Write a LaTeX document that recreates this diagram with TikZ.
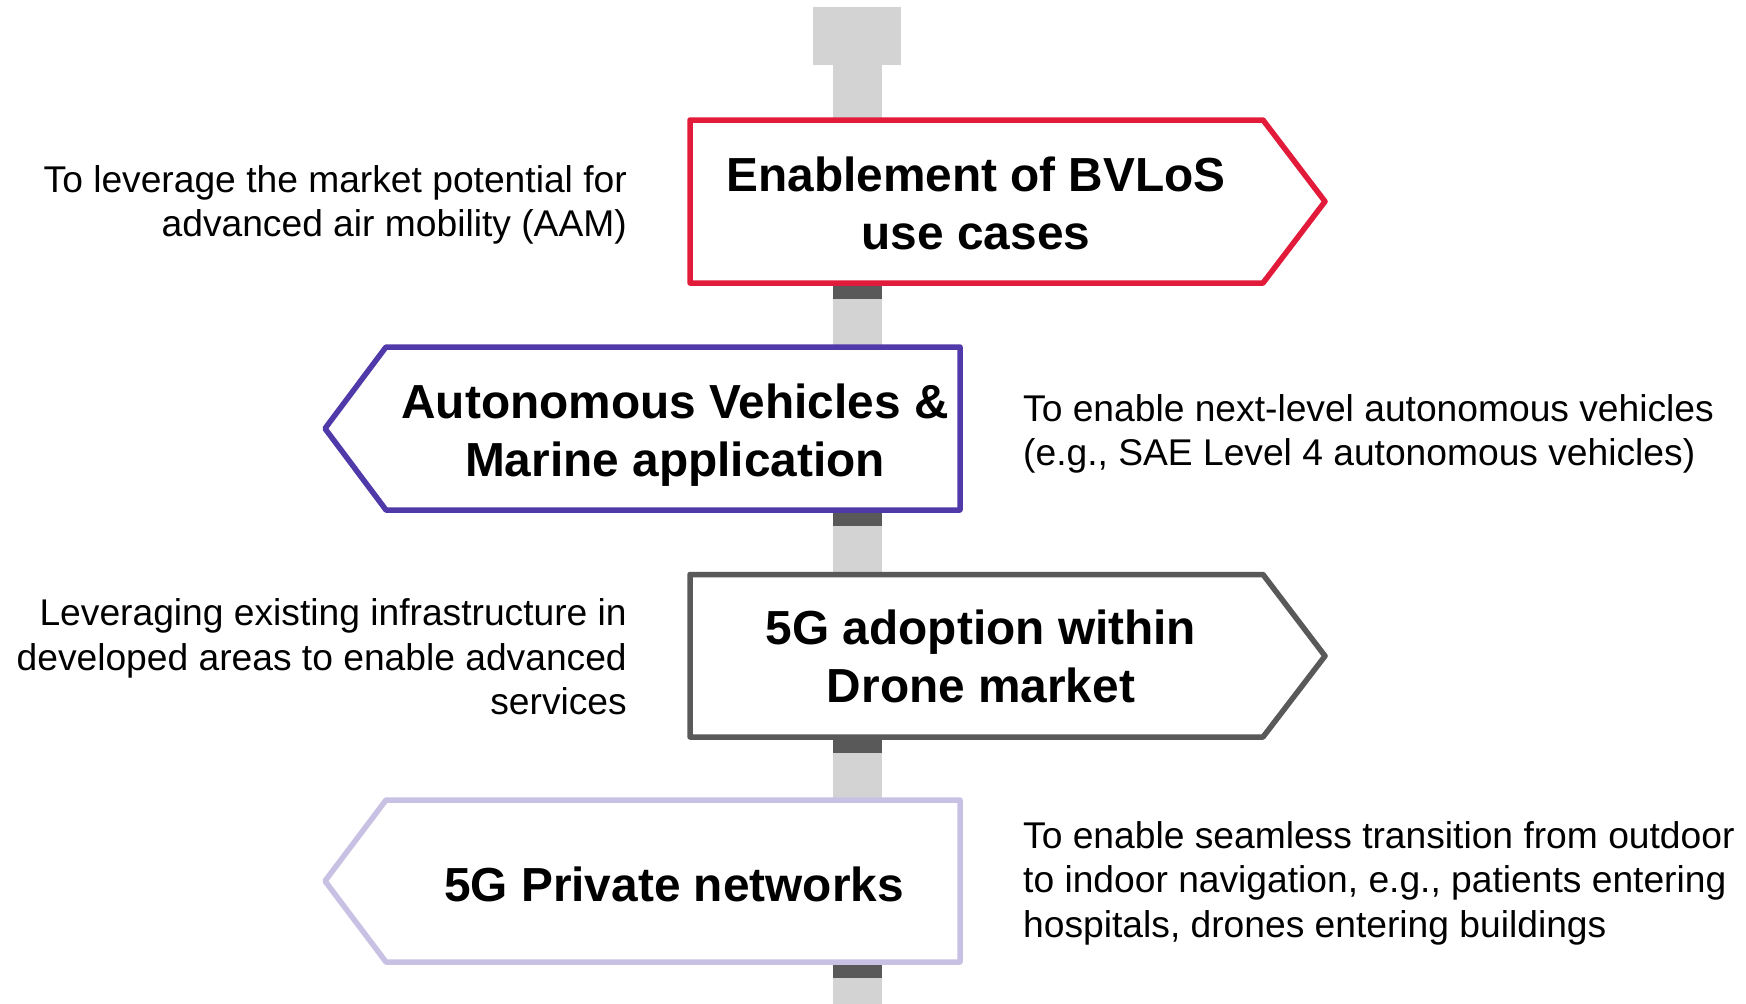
\documentclass[tikz,border=0pt]{standalone}
\usepackage{fontspec}
\setmainfont{Liberation Sans}
\definecolor{polegray}{HTML}{D3D3D3}
\definecolor{banddark}{HTML}{595959}
\definecolor{signred}{HTML}{E31B3B}
\definecolor{signpurple}{HTML}{5039A8}
\definecolor{signgray}{HTML}{595959}
\definecolor{signlav}{HTML}{C9C1E4}
\tikzset{
  signbox/.style={fill=white, line width=5.5pt, line join=round},
  signtext/.style={font=\fontsize{47.8}{58}\selectfont\bfseries, align=center, inner sep=0pt},
  sidetext/.style={font=\fontsize{37.2}{44.5}\selectfont, inner sep=0pt},
  band/.style={fill=banddark},
}
\begin{document}
\begin{tikzpicture}[x=1pt,y=-1pt]
\useasboundingbox (0,0) rectangle (1746,1004);
% pole
\fill[polegray] (833,64) rectangle (882,1004);
\fill[polegray] (813,7) rectangle (901,65);
% dark bands
\fill[band] (833,283) rectangle (882,299);
\fill[band] (833,510) rectangle (882,526);
\fill[band] (833,737) rectangle (882,753);
\fill[band] (833,962) rectangle (882,978);
% signs
\draw[signbox, draw=signred] (690,120) -- (1263,120) -- (1325,201.5) -- (1263,283) -- (690,283) -- cycle;
\draw[signbox, draw=signpurple] (960,347) -- (386,347) -- (325,428.5) -- (386,510) -- (960,510) -- cycle;
\draw[signbox, draw=signgray] (690,574.5) -- (1263,574.5) -- (1325,656) -- (1263,737) -- (690,737) -- cycle;
\draw[signbox, draw=signlav] (960,800) -- (386,800) -- (325,881) -- (386,962) -- (960,962) -- cycle;
% sign texts
\node[signtext] (s1) at (976,203) {Enablement of BVLoS\\use cases};
\node[signtext] (s2) at (675,435) {Autonomous Vehicles \&\\Marine application};
\node[signtext] (s3) at (981,656) {5G adoption within\\Drone market};
\node[signtext] (s4) at (674,884) {5G Private networks};
% side texts
\node[sidetext, anchor=east, align=right] (t1) at (627,205) {To leverage the market potential for\\advanced air mobility (AAM)};
\node[sidetext, anchor=west, align=left] (t2) at (1023,434) {To enable next-level autonomous vehicles\\(e.g., SAE Level 4 autonomous vehicles)};
\node[sidetext, anchor=east, align=right] (t3) at (627,657) {Leveraging existing infrastructure in\\developed areas to enable advanced\\services};
\node[sidetext, anchor=west, align=left] (t4) at (1023,883) {To enable seamless transition from outdoor\\to indoor navigation, e.g., patients entering\\hospitals, drones entering buildings};
\end{tikzpicture}
\end{document}
